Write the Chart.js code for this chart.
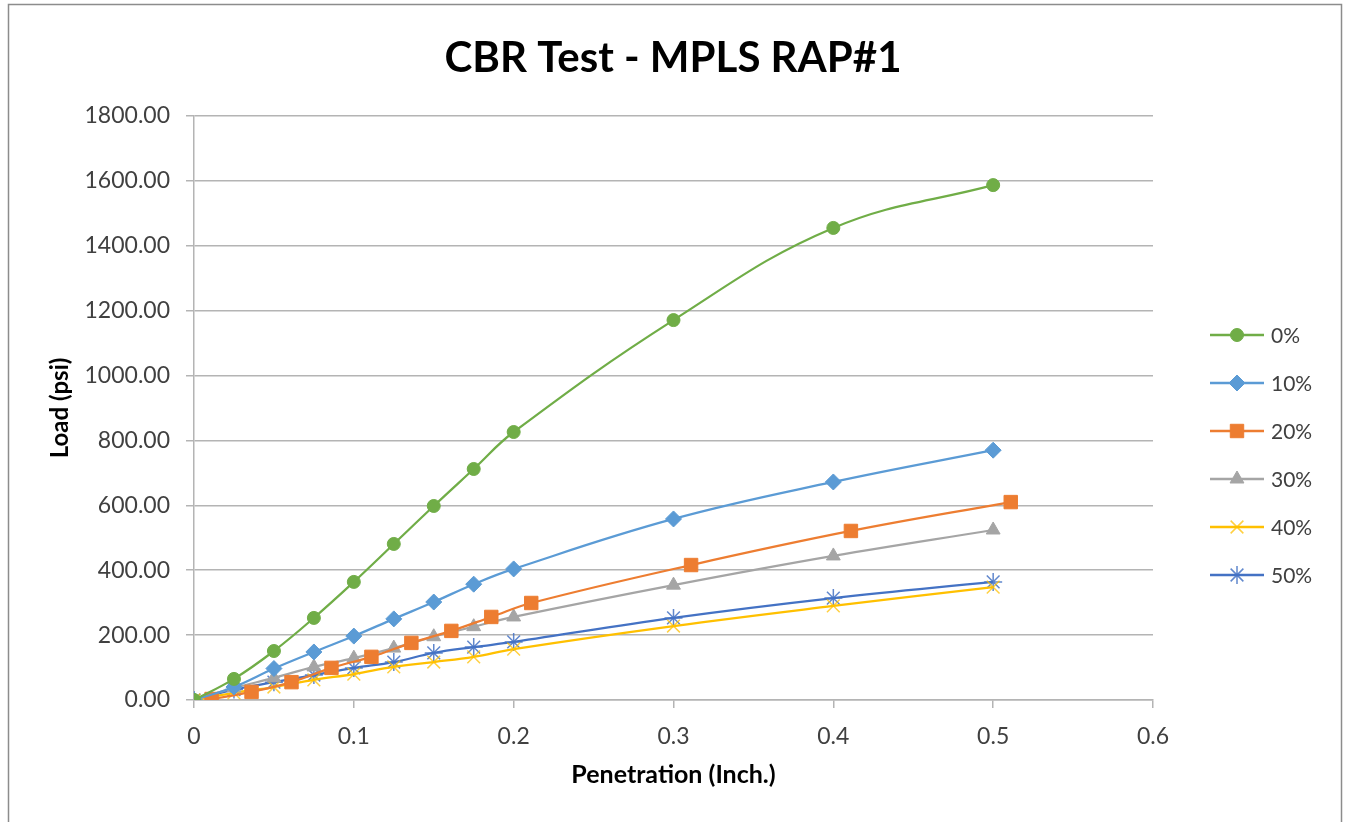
<!DOCTYPE html>
<html>
<head>
<meta charset="utf-8">
<title>CBR Test - MPLS RAP#1</title>
<script src="https://cdn.jsdelivr.net/npm/chart.js@4.4.1/dist/chart.umd.min.js"></script>
<style>
    html, body { margin: 0; padding: 0; background: #fff; }
    #wrap { position: relative; width: 1346px; height: 822px; }
</style>
</head>
<body>
<div id="wrap"><canvas id="cbrChart" width="1346" height="822"></canvas></div>
<script>
// data
var penetration = [0, 0.025, 0.05, 0.075, 0.1, 0.125, 0.15, 0.175, 0.2, 0.3, 0.4, 0.5];
var penetration20 = [0.011, 0.036, 0.061, 0.086, 0.111, 0.136, 0.161, 0.186, 0.211, 0.311, 0.411, 0.511];
var load0 = [0, 65, 151, 253, 364, 481, 598, 712, 826, 1171, 1455, 1587];
var load10 = [0, 40, 97, 148, 197, 250, 302, 357, 404, 558, 672, 770];
var load20 = [3, 25, 55, 99, 133, 176, 213, 256, 299, 416, 521, 610];
var load30 = [0, 37, 68, 102, 129, 160, 195, 226, 256, 354, 444, 524];
var load40 = [0, 22, 40, 62, 80, 102, 117, 133, 157, 228, 290, 348];
var load50 = [0, 32, 55, 77, 99, 117, 145, 163, 179, 253, 314, 364];
var seriesLabels = ["0%", "10%", "20%", "30%", "40%", "50%"];
var xTicks = [0, 0.1, 0.2, 0.3, 0.4, 0.5, 0.6];

function toPoints(xs, ys) {
    return xs.map(function (x, i) {
        return { x: x, y: ys[i] };
    });
}

var fontFamily = "Lato";
var textColor = "#404040";
var gridColor = "#b4b4b4";

// bingkai luar chart
var framePlugin = {
    id: "frame",
    beforeDraw: function (chart) {
        var ctx = chart.ctx;
        ctx.save();
        ctx.fillStyle = "#ffffff";
        ctx.fillRect(0, 0, chart.width, chart.height);
        ctx.strokeStyle = "#8c8c8c";
        ctx.lineWidth = 1.5;
        ctx.strokeRect(8.5, 4.5, 1333, 840);
        ctx.restore();
    },
};

// legenda gaya Excel: garis + marker
var sideLegend = {
    id: "sideLegend",
    afterDraw: function (chart) {
        var ctx = chart.ctx;
        chart.data.datasets.forEach(function (ds, i) {
            var y = 335 + i * 48;
            ctx.save();
            ctx.strokeStyle = ds.borderColor;
            ctx.lineWidth = 2.5;
            ctx.beginPath();
            ctx.moveTo(1210, y);
            ctx.lineTo(1264, y);
            ctx.stroke();
            ctx.fillStyle = ds.pointBackgroundColor;
            ctx.strokeStyle = ds.pointBorderColor;
            ctx.lineWidth = ds.pointBorderWidth;
            Chart.helpers.drawPoint(ctx, {
                pointStyle: ds.pointStyle,
                radius: ds.pointRadius,
                rotation: 0,
                borderWidth: ds.pointBorderWidth,
            }, 1237, y);
            ctx.fillStyle = textColor;
            ctx.font = "21px " + fontFamily;
            ctx.textBaseline = "middle";
            ctx.textAlign = "left";
            ctx.fillText(ds.label, 1271, y + 1);
            ctx.restore();
        });
    },
};

function series(label, xs, ys, color, markerColor, style, radius) {
    return {
        label: label,
        data: toPoints(xs, ys),
        borderColor: color,
        borderWidth: 2.25,
        tension: 0.4,
        pointStyle: style,
        pointRadius: radius,
        pointHoverRadius: radius,
        pointBackgroundColor: markerColor,
        pointBorderColor: markerColor,
        pointBorderWidth: style === "crossRot" || style === "star" ? 1.5 : 1,
        fill: false,
    };
}

var ctx = document.getElementById("cbrChart").getContext("2d");
var cbrChart = new Chart(ctx, {
    type: "line",
    data: {
        datasets: [
            series(seriesLabels[0], penetration, load0, "#70ad47", "#70ad47", "circle", 6.5),
            series(seriesLabels[1], penetration, load10, "#5b9bd5", "#5b9bd5", "rectRot", 8),
            series(seriesLabels[2], penetration20, load20, "#ed7d31", "#ed7d31", "rect", 9.5),
            series(seriesLabels[3], penetration, load30, "#a5a5a5", "#a5a5a5", "triangle", 8),
            series(seriesLabels[4], penetration, load40, "#ffc000", "rgba(255,192,0,0.75)", "crossRot", 9),
            series(seriesLabels[5], penetration, load50, "#4472c4", "rgba(68,114,196,0.85)", "star", 9),
        ],
    },
    plugins: [framePlugin, sideLegend],
    options: {
        responsive: false,
        animation: false,
        layout: {
            padding: 0,
        },
        plugins: {
            legend: { display: false },
            tooltip: { enabled: false },
            title: {
                display: true,
                text: "CBR Test - MPLS RAP#1",
                color: "#000000",
                font: { family: fontFamily, size: 42, weight: "bold", lineHeight: 1.2 },
                padding: { top: 33, bottom: 32.6 },
            },
        },
        scales: {
            x: {
                type: "linear",
                min: 0,
                max: 0.6,
                afterFit: function (scale) {
                    scale.height = 122;
                },
                afterBuildTicks: function (scale) {
                    scale.ticks = xTicks.map(function (v) {
                        return { value: v };
                    });
                },
                grid: {
                    display: true,
                    drawOnChartArea: false,
                    drawTicks: true,
                    tickLength: 8,
                    color: gridColor,
                    lineWidth: 1.5,
                },
                border: { display: true, color: gridColor, width: 1.5 },
                ticks: {
                    color: textColor,
                    padding: 15,
                    maxRotation: 0,
                    font: { family: fontFamily, size: 23 },
                    callback: function (v) {
                        return String(v);
                    },
                },
                title: {
                    display: true,
                    text: "Penetration (Inch.)",
                    color: "#000000",
                    font: { family: fontFamily, size: 25, weight: "bold", lineHeight: 1.2 },
                    padding: { top: 0, bottom: 32 },
                },
            },
            y: {
                min: 0,
                max: 1800,
                afterFit: function (scale) {
                    scale.width = 194;
                },
                grid: {
                    display: true,
                    drawOnChartArea: true,
                    drawTicks: true,
                    tickLength: 8,
                    color: gridColor,
                    lineWidth: 1.5,
                },
                border: { display: true, color: gridColor, width: 1.5 },
                ticks: {
                    stepSize: 200,
                    color: textColor,
                    padding: 16,
                    font: { family: fontFamily, size: 23 },
                    callback: function (v) {
                        return v.toFixed(2);
                    },
                },
                title: {
                    display: true,
                    text: "Load (psi)",
                    color: "#000000",
                    font: { family: fontFamily, size: 24, weight: "bold", lineHeight: 1.2 },
                    padding: { top: 45.6, bottom: 0 },
                },
            },
            // sumbu kosong di kanan untuk tempat legenda
            yLegend: {
                position: "right",
                min: 0,
                max: 1800,
                display: true,
                afterFit: function (scale) {
                    scale.width = 193;
                },
                grid: { display: false, drawTicks: false },
                border: { display: false },
                ticks: { display: false },
            },
        },
    },
});
</script>
</body>
</html>
